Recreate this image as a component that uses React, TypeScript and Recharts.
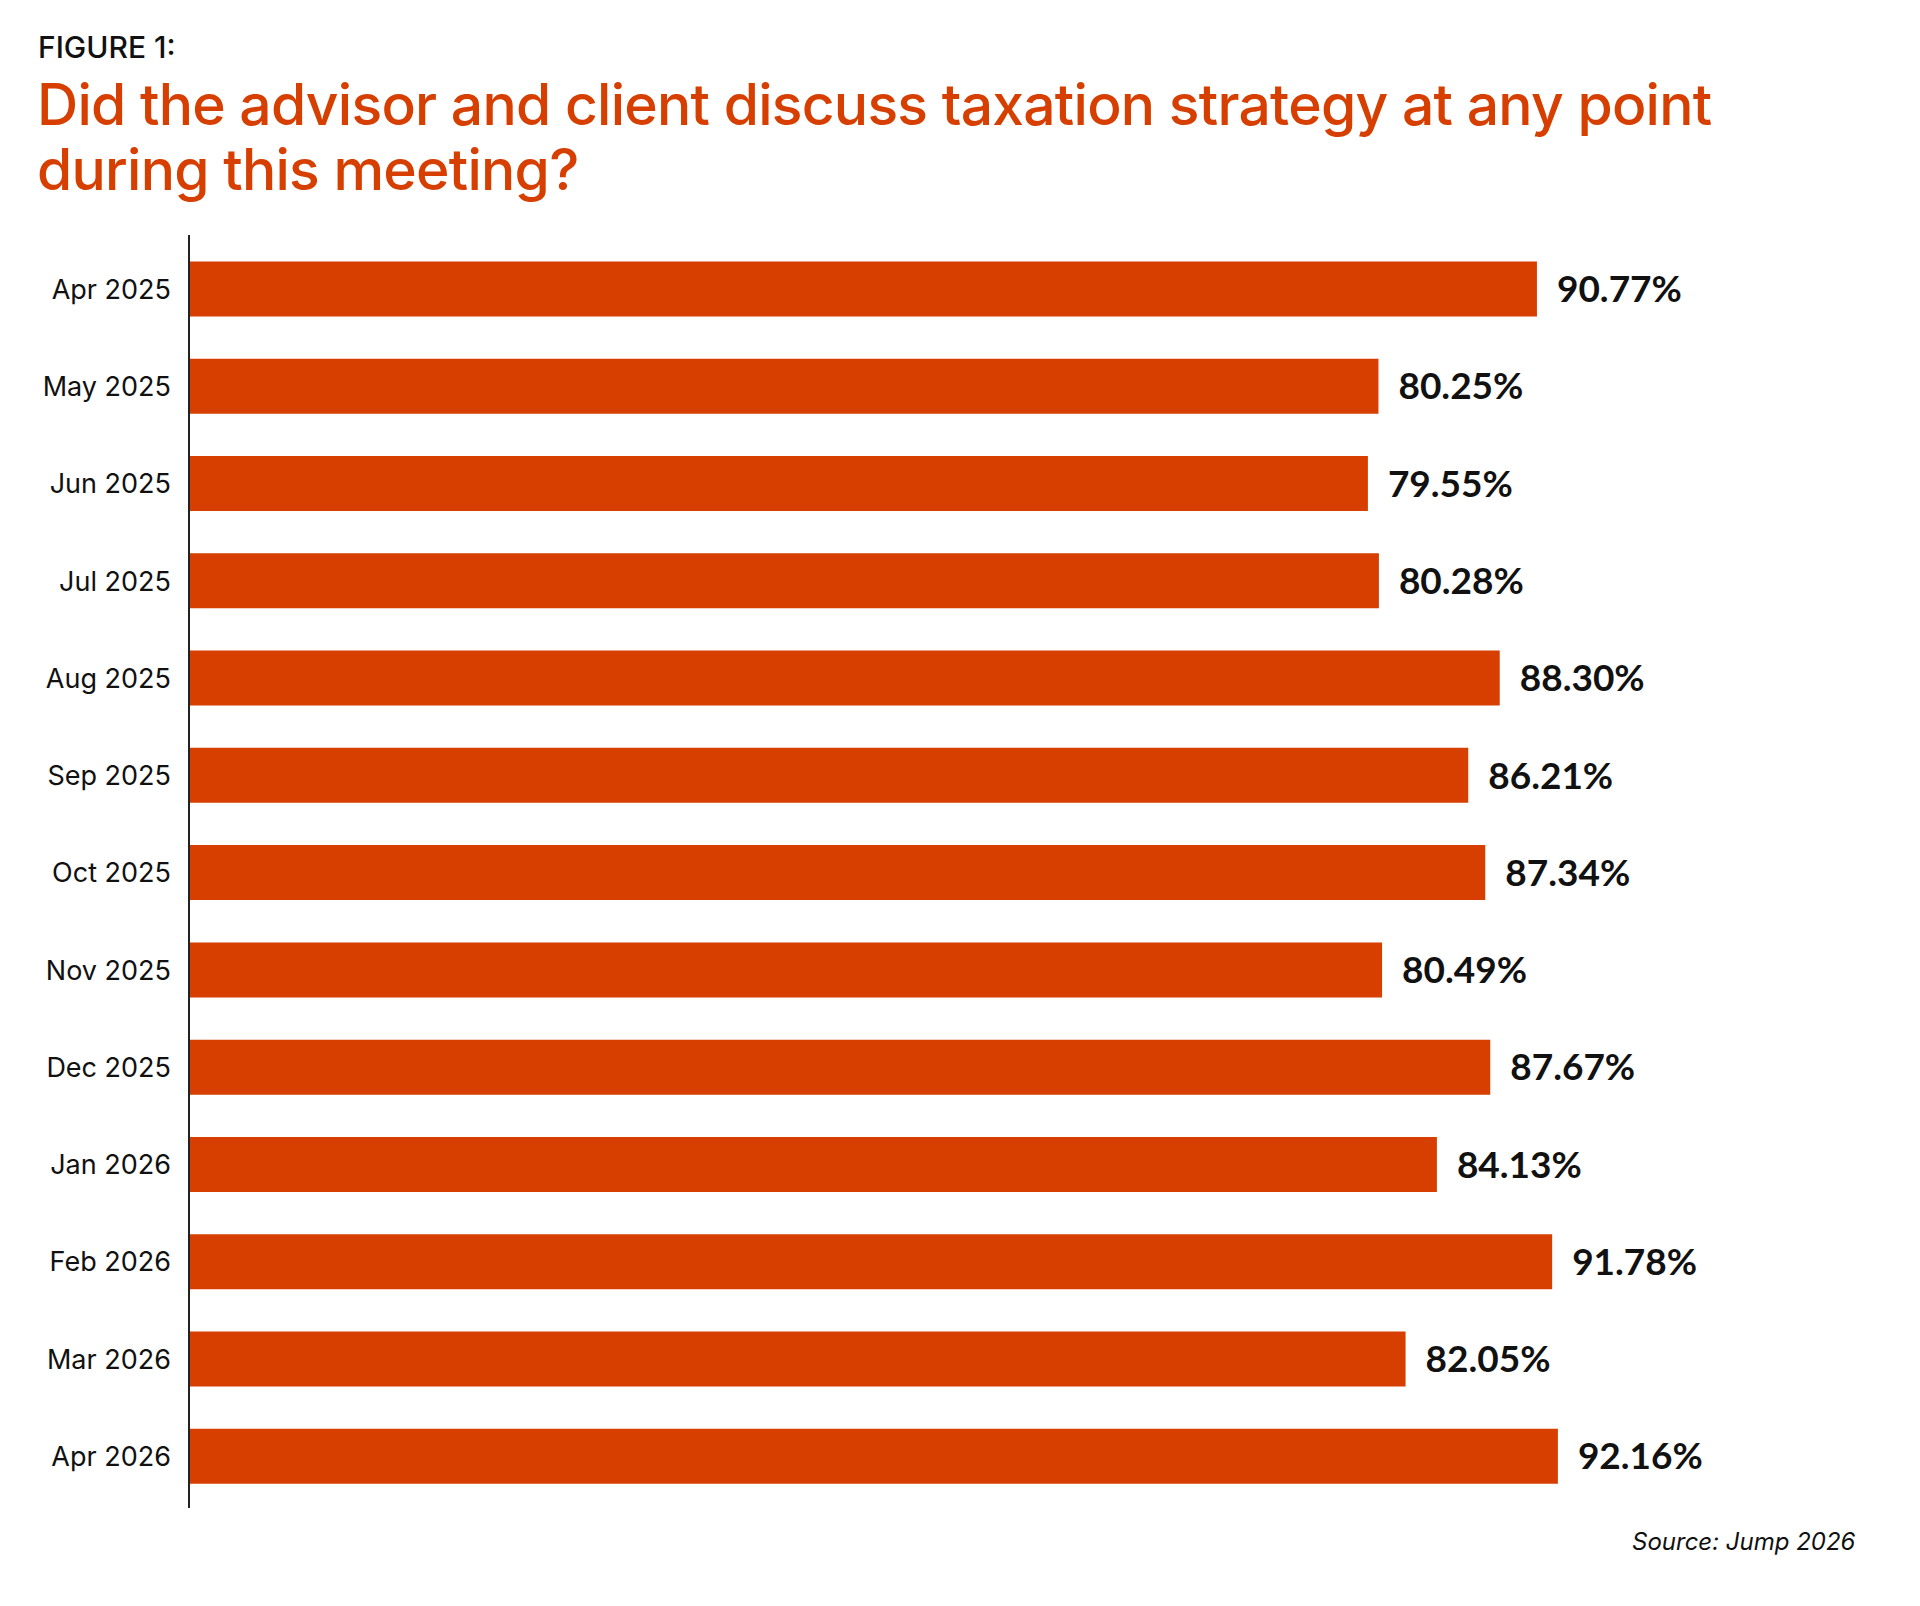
import React from 'react';
import { BarChart, Bar, XAxis, YAxis, LabelList } from 'recharts';

// months shown on the category axis, top to bottom
const months = [
  'Apr 2025',
  'May 2025',
  'Jun 2025',
  'Jul 2025',
  'Aug 2025',
  'Sep 2025',
  'Oct 2025',
  'Nov 2025',
  'Dec 2025',
  'Jan 2026',
  'Feb 2026',
  'Mar 2026',
  'Apr 2026',
];

// share of meetings where taxation strategy came up (%)
const discussedPct = [
  90.77, 80.25, 79.55, 80.28, 88.3, 86.21, 87.34, 80.49, 87.67, 84.13, 91.78, 82.05, 92.16,
];

const ORANGE = '#D63F00';
const INK = '#111111';

const rows = months.map((month, i) => ({ month, value: discussedPct[i] }));

const formatPct = (v: number) => `${Number(v).toFixed(2)}%`;

export default function App() {
  return (
    <div
      style={{
        position: 'absolute',
        left: 0,
        top: 0,
        width: 1920,
        height: 1606,
        background: '#ffffff',
        overflow: 'hidden',
      }}
    >
      <BarChart
        width={1920}
        height={1606}
        data={rows}
        layout="vertical"
        margin={{ top: 235, right: 244, bottom: 98, left: 0 }}
        style={{ position: 'absolute', left: 0, top: 0 }}
      >
        <XAxis type="number" domain={[1.3, 100]} hide allowDataOverflow />
        <YAxis
          type="category"
          dataKey="month"
          width={189}
          padding={{ top: 5.6, bottom: 3.1 }}
          tickLine={false}
          tickSize={0}
          tickMargin={18}
          axisLine={{ stroke: '#222222', strokeWidth: 2 }}
          tick={{ fill: INK, fontSize: 27, fontFamily: 'Inter', fontWeight: 400 }}
          interval={0}
        />
        <Bar dataKey="value" fill={ORANGE} barSize={55} isAnimationActive={false}>
          <LabelList
            dataKey="value"
            position="right"
            offset={20}
            formatter={formatPct}
            fill={INK}
            fontSize={37}
            fontFamily="Lato"
            fontWeight={700}
          />
        </Bar>
      </BarChart>

      {/* heading + source note */}
      <svg
        width={1920}
        height={1606}
        style={{ position: 'absolute', left: 0, top: 0, pointerEvents: 'none' }}
      >
        <text x={38} y={58} fontFamily="Inter" fontWeight={500} fontSize={30} fill={INK}>
          FIGURE 1:
        </text>
        <text
          x={37}
          y={125}
          fontFamily="Inter"
          fontWeight={500}
          fontSize={57}
          fill={ORANGE}
          letterSpacing={-0.75}
        >
          Did the advisor and client discuss taxation strategy at any point
        </text>
        <text
          x={37}
          y={190}
          fontFamily="Inter"
          fontWeight={500}
          fontSize={57}
          fill={ORANGE}
          letterSpacing={-0.75}
        >
          during this meeting?
        </text>
        <text
          x={1632}
          y={1550}
          fontFamily="Inter"
          fontStyle="italic"
          fontSize={24}
          fill={INK}
        >
          Source: Jump 2026
        </text>
      </svg>
    </div>
  );
}
